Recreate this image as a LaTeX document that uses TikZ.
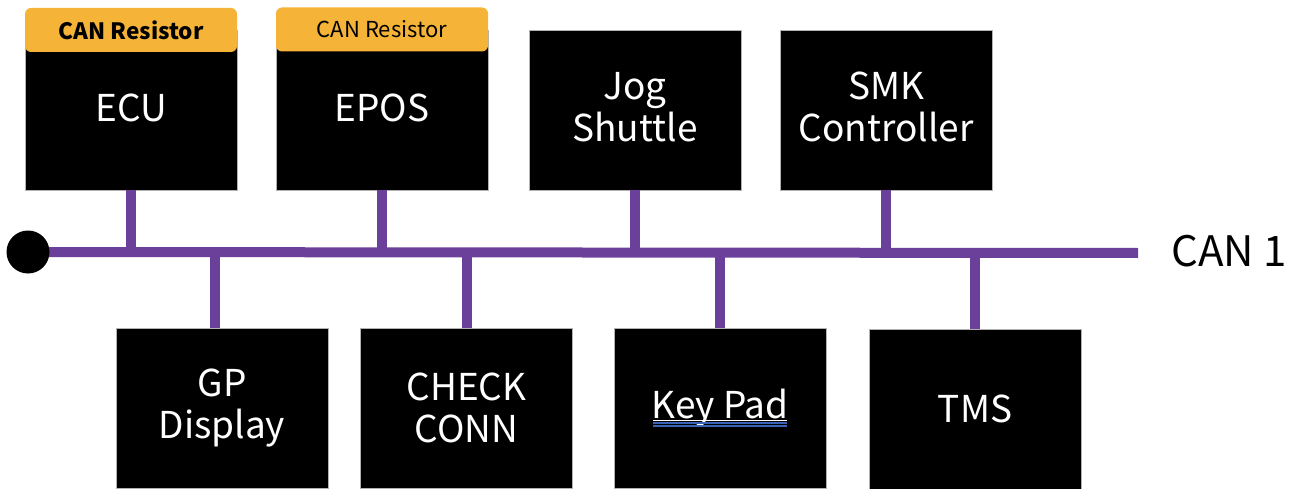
\documentclass[tikz,border=0pt]{standalone}
\usepackage{fontspec}
\setmainfont{Noto Sans CJK KR}
\usetikzlibrary{calc}
\definecolor{canpurple}{RGB}{107,64,154}
\definecolor{resorange}{RGB}{245,180,55}
\definecolor{spellblue}{RGB}{58,99,184}
\begin{document}
\begin{tikzpicture}[x=1pt,y=-1pt,
  devbox/.style={fill=black, draw=gray!60, line width=0.6pt, minimum width=212pt,
    minimum height=160pt, inner sep=0pt, text=white, align=center,
    font=\fontsize{37}{42}\selectfont},
  resbox/.style={fill=resorange, rounded corners=6pt, minimum width=212pt,
    minimum height=44pt, inner sep=0pt, text=black, font=\fontsize{22}{24}\selectfont},
  wire/.style={draw=canpurple, line width=10pt},
  dotnode/.style={circle, fill=black, minimum size=43pt, inner sep=0pt},
]
\useasboundingbox (0,0) rectangle (1295,489);

% top devices
\node[devbox] (ecu)  at (131,110) {};
\node[devbox] (epos) at (382,110) {};
\node[devbox] (jog)  at (635,110) {};
\node[devbox] (smk)  at (886,110) {};
\node[resbox, font=\fontsize{22.5}{24}\selectfont\bfseries] (ecures) at (131,30) {CAN Resistor};
\node[resbox] (eposres) at (382,29.5) {CAN Resistor};
\node[devbox, draw=none, fill=none, minimum size=0pt] (ecutext)  at (131,108) {ECU};
\node[devbox, draw=none, fill=none, minimum size=0pt] (epostext) at (382,108) {EPOS};
\node[devbox, draw=none, fill=none, minimum size=0pt] (jogtext)  at (635,107) {Jog\\Shuttle};
\node[devbox, draw=none, fill=none, minimum size=0pt] (smktext)  at (886,107) {SMK\\Controller};

% bottom devices
\node[devbox] (gp)     at (222,408) {GP\\Display};
\node[devbox] (check)  at (466.5,408) {CHECK\\CONN};
\node[devbox] (keypad) at (720,408) {Key Pad};
\node[devbox] (tms)    at (975,409) {TMS};

% Key Pad underline
\draw[white, line width=0.8pt] ($(keypad.center)+(-67,12.5)$) -- ($(keypad.center)+(67,12.5)$);
\draw[spellblue, line width=2pt] ($(keypad.center)+(-67,15)$) -- ($(keypad.center)+(67,15)$);
\draw[spellblue, line width=2pt] ($(keypad.center)+(-67,18.2)$) -- ($(keypad.center)+(67,18.2)$);

% bus
\coordinate (busstart) at (28,252);
\coordinate (busend) at (1138,253);
\draw[wire] (busstart) -- (busend);
\node[dotnode] (dot) at (busstart) {};
\node[anchor=west, font=\fontsize{42}{46}\selectfont, inner sep=0pt] (canlabel) at (1171,251) {CAN 1};

% stubs
\draw[wire] (ecu.south)  -- (ecu.south |- busend);
\draw[wire] (epos.south) -- (epos.south |- busend);
\draw[wire] (jog.south)  -- (jog.south |- busend);
\draw[wire] (smk.south)  -- (smk.south |- busend);
\draw[wire] ([xshift=-7pt]gp.north) -- ([xshift=-7pt]gp.north |- busend);
\draw[wire] (check.north)  -- (check.north |- busend);
\draw[wire] (keypad.north) -- (keypad.north |- busend);
\draw[wire] (tms.north)    -- (tms.north |- busend);
\end{tikzpicture}
\end{document}
